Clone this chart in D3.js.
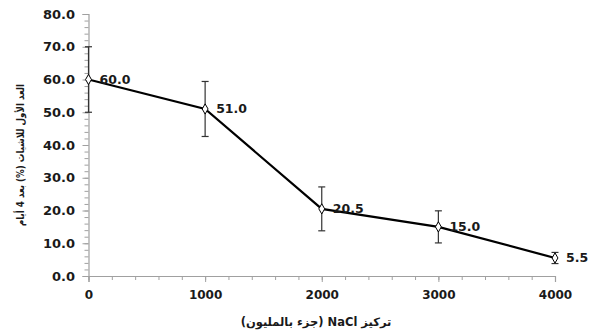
<!DOCTYPE html>
<html>
<head>
<meta charset="utf-8">
<script src="https://cdn.jsdelivr.net/npm/d3@7"></script>
<style>
  body { margin: 0; background: #fff; }
  svg text { font-family: "DejaVu Sans", Verdana, sans-serif; font-weight: bold; }
</style>
</head>
<body>
<svg id="chart" width="596" height="334"></svg>
<script>
let conc = [0, 1000, 2000, 3000, 4000]
let values = [60.0, 51.0, 20.5, 15.0, 5.5]
let errs = [10.0, 8.4, 6.7, 4.9, 1.7]
let yTicks = [0, 10, 20, 30, 40, 50, 60, 70, 80]
let xTicks = [0, 1000, 2000, 3000, 4000]

let svg = d3.select("#chart")
let margin = { top: 14, right: 41, bottom: 58, left: 88.5 }
let width = 596, height = 334

let x = d3.scaleLinear()
    .domain([0, 4000])
    .range([margin.left, width - margin.right])

let y = d3.scaleLinear()
    .domain([0, 80])
    .range([height - margin.bottom, margin.top])

// minor ticks
svg.append("g")
    .attr("transform", `translate(${margin.left},0)`)
    .call(d3.axisLeft(y).tickValues(d3.range(0, 81, 2)).tickSize(4).tickFormat(""))
    .call(g => g.selectAll("line").attr("stroke", "#a0a0a0"))
    .call(g => g.select(".domain").remove())

svg.append("g")
    .attr("transform", `translate(0,${height - margin.bottom})`)
    .call(d3.axisBottom(x).tickValues(d3.range(0, 4001, 200)).tickSize(4).tickFormat(""))
    .call(g => g.selectAll("line").attr("stroke", "#a0a0a0"))
    .call(g => g.select(".domain").remove())

let yAxis = svg.append("g")
    .attr("transform", `translate(${margin.left},0)`)
    .call(d3.axisLeft(y).tickValues(yTicks).tickSize(6).tickPadding(7.5).tickFormat(d3.format(".1f")))
yAxis.select(".domain").attr("stroke", "#a0a0a0").attr("stroke-width", 1.2)
yAxis.selectAll("line").attr("stroke", "#a0a0a0")
yAxis.selectAll("text").attr("fill", "#1a1a1a").style("font-size", "13px")

let xAxis = svg.append("g")
    .attr("transform", `translate(0,${height - margin.bottom})`)
    .call(d3.axisBottom(x).tickValues(xTicks).tickSize(6).tickPadding(8).tickFormat(d3.format("d")))
xAxis.select(".domain").attr("stroke", "#a0a0a0").attr("stroke-width", 1.2)
xAxis.selectAll("line").attr("stroke", "#a0a0a0")
xAxis.selectAll("text").attr("fill", "#1a1a1a").style("font-size", "12px")

// error bars
let eb = svg.append("g").attr("stroke", "#333").attr("stroke-width", 1.2)
conc.forEach((c, i) => {
    eb.append("line")
      .attr("x1", x(c)).attr("x2", x(c))
      .attr("y1", y(values[i] - errs[i])).attr("y2", y(values[i] + errs[i]))
    ;[values[i] - errs[i], values[i] + errs[i]].forEach(v => {
      eb.append("line")
        .attr("x1", x(c) - 3.5).attr("x2", x(c) + 3.5)
        .attr("y1", y(v)).attr("y2", y(v))
    })
})

// line
let line = d3.line()
    .x((d, i) => x(conc[i]))
    .y(d => y(d))

svg.append("path")
    .datum(values)
    .attr("fill", "none")
    .attr("stroke", "#000")
    .attr("stroke-width", 2.2)
    .attr("d", line)

// markers
svg.append("g")
    .selectAll("path")
    .data(values)
    .join("path")
    .attr("transform", (d, i) => `translate(${x(conc[i])},${y(d)})`)
    .attr("d", d3.symbol().type(d3.symbolDiamond).size(30))
    .attr("fill", "#fff")
    .attr("stroke", "#000")
    .attr("stroke-width", 1)

// value labels
svg.append("g")
    .selectAll("text")
    .data(values)
    .join("text")
    .attr("x", (d, i) => x(conc[i]) + 11)
    .attr("y", d => y(d) + 4.5)
    .text(d => d3.format(".1f")(d))
    .attr("fill", "#1a1a1a")
    .style("font-size", "12.5px")

// axis titles
svg.append("text")
    .attr("x", 316)
    .attr("y", 326)
    .attr("direction", "rtl")
    .attr("text-anchor", "middle")
    .attr("fill", "#1a1a1a")
    .style("font-size", "11.5px")
    .text("تركيز NaCl (جزء بالمليون)")

svg.append("text")
    .attr("transform", "translate(24,155) rotate(-90)")
    .attr("direction", "rtl")
    .attr("text-anchor", "middle")
    .attr("fill", "#1a1a1a")
    .attr("textLength", 142)
    .attr("lengthAdjust", "spacingAndGlyphs")
    .style("font-size", "10.5px")
    .text("العد الأول للاشيات (%) بعد 4 أيام")
</script>
</body>
</html>
